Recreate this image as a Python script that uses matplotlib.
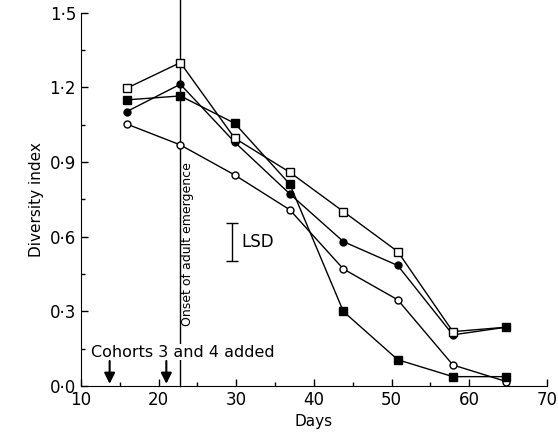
import matplotlib
matplotlib.use('Agg')
import matplotlib.pyplot as plt
from matplotlib.ticker import MultipleLocator, FuncFormatter

days = [15.9, 22.8, 29.8, 36.9, 43.8, 50.8, 57.9, 64.8]

open_sq = [1.197, 1.30, 0.996, 0.859, 0.701, 0.540, 0.218, 0.236]
filled_circ = [1.103, 1.213, 0.980, 0.772, 0.580, 0.484, 0.205, 0.236]
filled_sq = [1.150, 1.166, 1.056, 0.811, 0.299, 0.105, 0.037, 0.037]
open_circ = [1.053, 0.969, 0.848, 0.708, 0.470, 0.346, 0.084, 0.017]

onset_day = 22.8
cohort_days = [13.7, 21.0]
lsd_x = 29.4
lsd_low, lsd_high = 0.503, 0.655

plt.rcParams['font.family'] = 'DejaVu Sans'

fig = plt.figure(figsize=(5.58, 4.44), dpi=100)
ax = fig.add_axes([0.145, 0.131, 0.835, 0.840])

lw = 1.0
ax.plot(days, open_circ, '-o', color='black', mfc='white', mec='black', ms=5, lw=lw, zorder=3)
ax.plot(days, filled_sq, '-s', color='black', mfc='black', ms=5.5, lw=lw, zorder=3)
ax.plot(days, filled_circ, '-o', color='black', mfc='black', ms=5, lw=lw, zorder=3)
ax.plot(days[:-1], open_sq[:-1], 's', color='black', mfc='white', mec='black', ms=5.5, lw=lw, zorder=4)
ax.plot(days, open_sq, '-', color='black', lw=lw, zorder=3)
# last point is drawn as a filled square in the original
ax.plot(days[-1:], open_sq[-1:], 's', color='black', mfc='black', ms=5.5, zorder=5)

# onset of adult emergence
ax.plot([onset_day, onset_day], [0, 1.56], color='black', lw=1.0, clip_on=False, zorder=2)
ax.text(onset_day + 0.9, 0.57, 'Onset of adult emergence', rotation=90,
        ha='center', va='center', fontsize=9)

# LSD bar
ax.errorbar([lsd_x], [(lsd_low + lsd_high) / 2], yerr=[(lsd_high - lsd_low) / 2],
            fmt='none', ecolor='black', elinewidth=1.0, capsize=4, capthick=1.0)
ax.text(lsd_x + 1.3, (lsd_low + lsd_high) / 2, 'LSD', ha='left', va='center', fontsize=12)

# cohorts
ax.text(11.3, 0.135, 'Cohorts 3 and 4 added', ha='left', va='center', fontsize=11.5,
        bbox=dict(facecolor='white', edgecolor='none', pad=0.5), zorder=6)
for d in cohort_days:
    ax.annotate('', xy=(d, 0.008), xytext=(d, 0.1),
                arrowprops=dict(arrowstyle='-|>', color='black', lw=1.5,
                                mutation_scale=16, shrinkA=0, shrinkB=0), zorder=6)

ax.set_xlim(10, 70)
ax.set_ylim(0, 1.5)
ax.spines['top'].set_visible(False)
ax.spines['right'].set_visible(False)
ax.xaxis.set_major_locator(MultipleLocator(10))
ax.xaxis.set_minor_locator(MultipleLocator(5))
ax.yaxis.set_major_locator(MultipleLocator(0.3))
ax.yaxis.set_minor_locator(MultipleLocator(0.15))
ax.yaxis.set_major_formatter(FuncFormatter(lambda v, p: '{:.1f}'.format(v).replace('.', '\u00b7')))
ax.tick_params(which='major', direction='in', length=5, width=1, labelsize=12)
ax.tick_params(which='minor', direction='in', length=3, width=1)

ax.set_xlabel('Days', fontsize=11)
ax.set_ylabel('Diversity index', fontsize=11)

fig.savefig('out.png', dpi=100)
